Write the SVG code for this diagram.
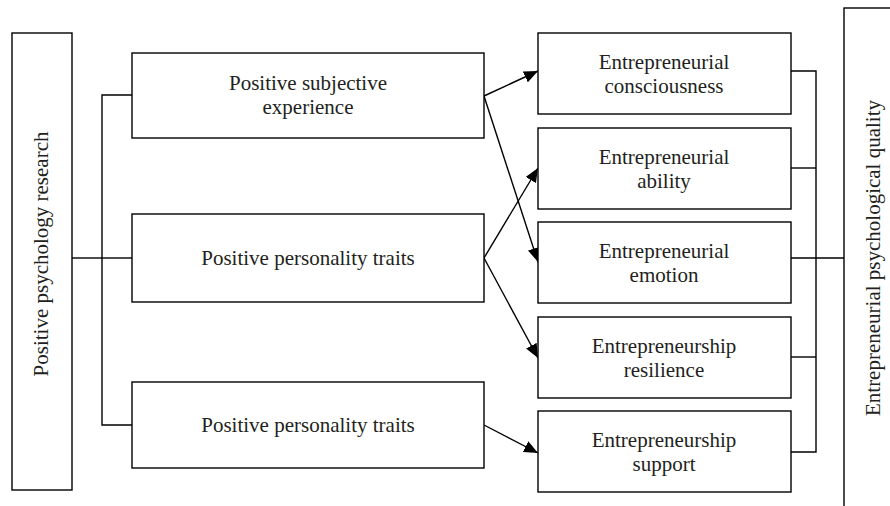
<svg xmlns="http://www.w3.org/2000/svg" width="890" height="506" viewBox="0 0 890 506">
<style>
.box{fill:#fff;stroke:#000;stroke-width:1.4}
.ln{fill:none;stroke:#000;stroke-width:1.4}
.arr{fill:none;stroke:#000;stroke-width:1.4;marker-end:url(#ah)}
text{font-family:"Liberation Serif","Times New Roman",serif;font-size:21px;fill:#231f20;text-anchor:middle}
</style>
<defs>
<marker id="ah" markerUnits="userSpaceOnUse" markerWidth="14" markerHeight="12" refX="14" refY="6" orient="auto">
<path d="M0,0 L14,6 L0,12 Z" fill="#000"/>
</marker>
</defs>
<rect width="890" height="506" fill="#fff"/>
<g id="connectors">
<polyline class="ln" points="72,258 102,258"/>
<polyline class="ln" points="132,95 102,95 102,425 132,425"/>
<line class="ln" x1="102" y1="258" x2="132" y2="258"/>
<line class="arr" x1="484" y1="96" x2="538" y2="71"/>
<line class="arr" x1="484" y1="96" x2="538" y2="262"/>
<line class="arr" x1="484" y1="258" x2="538" y2="168"/>
<line class="arr" x1="484" y1="258" x2="538" y2="358"/>
<line class="arr" x1="484" y1="425" x2="538" y2="453"/>
<polyline class="ln" points="791,71 816,71 816,452 791,452"/>
<line class="ln" x1="791" y1="168" x2="816" y2="168"/>
<line class="ln" x1="791" y1="357" x2="816" y2="357"/>
<line class="ln" x1="791" y1="258" x2="844" y2="258"/>
</g>
<g id="n-research">
<rect class="box" x="12" y="33" width="60" height="457"/>
<text transform="translate(48,254) rotate(-90)">Positive psychology research</text>
</g>
<g id="n-subjective">
<rect class="box" x="132" y="53" width="352" height="85"/>
<text x="308" y="90">Positive subjective</text>
<text x="308" y="114">experience</text>
</g>
<g id="n-traits1">
<rect class="box" x="132" y="214" width="352" height="88"/>
<text x="308" y="265">Positive personality traits</text>
</g>
<g id="n-traits2">
<rect class="box" x="132" y="382" width="352" height="86"/>
<text x="308" y="432">Positive personality traits</text>
</g>
<g id="n-consciousness">
<rect class="box" x="538" y="33" width="253" height="81"/>
<text x="664" y="69">Entrepreneurial</text>
<text x="664" y="93">consciousness</text>
</g>
<g id="n-ability">
<rect class="box" x="538" y="128" width="253" height="81"/>
<text x="664" y="164">Entrepreneurial</text>
<text x="664" y="188">ability</text>
</g>
<g id="n-emotion">
<rect class="box" x="538" y="222" width="253" height="81"/>
<text x="664" y="258">Entrepreneurial</text>
<text x="664" y="282">emotion</text>
</g>
<g id="n-resilience">
<rect class="box" x="538" y="317" width="253" height="81"/>
<text x="664" y="353">Entrepreneurship</text>
<text x="664" y="377">resilience</text>
</g>
<g id="n-support">
<rect class="box" x="538" y="411" width="253" height="81"/>
<text x="664" y="447">Entrepreneurship</text>
<text x="664" y="471">support</text>
</g>
<g id="n-quality">
<rect class="box" x="844" y="8" width="60" height="520"/>
<text transform="translate(880,258) rotate(-90)">Entrepreneurial psychological quality</text>
</g>
</svg>
